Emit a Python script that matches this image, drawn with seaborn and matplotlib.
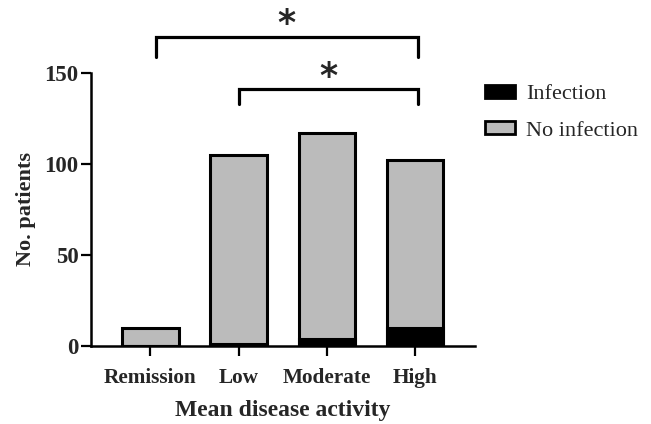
import matplotlib
matplotlib.use("Agg")
import matplotlib.pyplot as plt
import matplotlib.patches as mpatches
import pandas as pd
import seaborn as sns

categories = ["Remission", "Low", "Moderate", "High"]
infection = [0, 1, 4, 10]
no_infection = [10, 104, 113, 92]

df = pd.DataFrame({
    "activity": categories,
    "infection": infection,
    "total": [a + b for a, b in zip(infection, no_infection)],
})

sns.set_style("ticks")
plt.rcParams["font.family"] = ["Liberation Serif", "DejaVu Serif"]

fig = plt.figure(figsize=(6.51, 4.24), dpi=100)
ax = fig.add_axes([0.140, 0.184, 0.590, 0.644])

grey = "#bbbbbb"
sns.barplot(data=df, x="activity", y="total", color=grey, width=0.64,
            edgecolor="black", linewidth=2.2, saturation=1, ax=ax)
sns.barplot(data=df, x="activity", y="infection", color="black", width=0.64,
            edgecolor="black", linewidth=2.2, saturation=1, ax=ax)

ax.set_xlim(-0.67, 3.68)
ax.set_ylim(0, 150)
ax.set_yticks([0, 50, 100, 150])
ax.set_xlabel("Mean disease activity", fontsize=17, fontweight="bold", labelpad=9)
ax.set_ylabel("No. patients", fontsize=16, fontweight="bold", labelpad=6)
for lab in ax.get_xticklabels() + ax.get_yticklabels():
    lab.set_fontweight("bold")
ax.tick_params(width=1.6, length=7, color="black")
ax.tick_params(axis="x", labelsize=15.3, pad=8.5)
ax.tick_params(axis="y", labelsize=16.5, pad=2)
sns.despine(ax=ax)
for s in ["left", "bottom"]:
    ax.spines[s].set_linewidth(1.8)
    ax.spines[s].set_color("black")

# significance brackets
brackets = [(0.06, 3.03, 170, 159, 177), (1.0, 3.03, 141, 133, 147.5)]
for x0, x1, ytop, ybot, ystar in brackets:
    ax.plot([x0, x0, x1, x1], [ybot, ytop, ytop, ybot], color="black",
            lw=2.3, clip_on=False, solid_joinstyle="miter")
    ax.text((x0 + x1) / 2, ystar, "*", ha="center", va="center",
            fontsize=25, fontweight="heavy", clip_on=False,
            family=["DejaVu Sans"])

handles = [
    mpatches.Patch(facecolor="black", edgecolor="black", linewidth=2, label="Infection"),
    mpatches.Patch(facecolor=grey, edgecolor="black", linewidth=2, label="No infection"),
]
fig.legend(handles=handles, loc="upper left", bbox_to_anchor=(0.745, 0.80),
           frameon=False, fontsize=16, handlelength=1.35, handleheight=0.55,
           labelspacing=0.75, handletextpad=0.5, borderpad=0, borderaxespad=0)

fig.savefig("out.png", dpi=100)
